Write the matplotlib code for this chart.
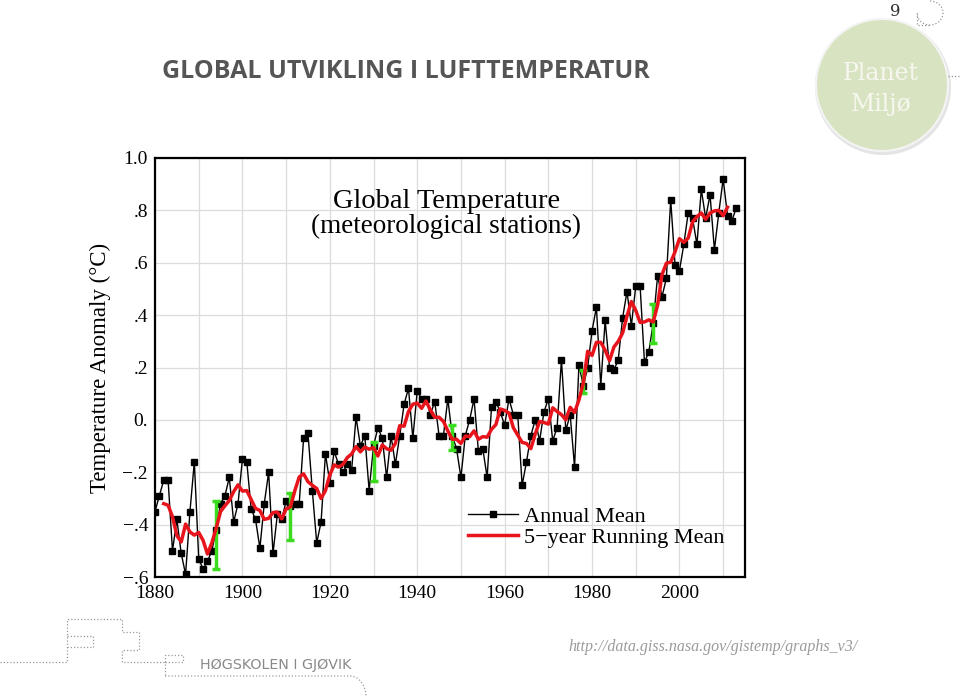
import numpy as np
import pandas as pd
import matplotlib
matplotlib.use('Agg')
import matplotlib.pyplot as plt
from matplotlib.patches import Circle, Arc

# Annual mean temperature anomaly (meteorological stations)
years = list(range(1880, 2014))
annual = [
    -0.35, -0.29, -0.23, -0.23, -0.50, -0.38, -0.51, -0.59, -0.35, -0.16,   # 1880s
    -0.53, -0.57, -0.54, -0.50, -0.42, -0.32, -0.29, -0.22, -0.39, -0.32,   # 1890s
    -0.15, -0.16, -0.34, -0.38, -0.49, -0.32, -0.20, -0.51, -0.36, -0.38,   # 1900s
    -0.31, -0.33, -0.32, -0.32, -0.07, -0.05, -0.27, -0.47, -0.39, -0.13,   # 1910s
    -0.24, -0.12, -0.17, -0.20, -0.17, -0.19, 0.01, -0.10, -0.06, -0.27,    # 1920s
    -0.10, -0.03, -0.07, -0.22, -0.06, -0.17, -0.06, 0.06, 0.12, -0.07,     # 1930s
    0.11, 0.08, 0.08, 0.02, 0.07, -0.06, -0.06, 0.08, -0.06, -0.11,         # 1940s
    -0.22, -0.06, 0.00, 0.08, -0.12, -0.11, -0.22, 0.05, 0.07, 0.03,        # 1950s
    -0.02, 0.08, 0.02, 0.02, -0.25, -0.16, -0.06, 0.00, -0.08, 0.03,        # 1960s
    0.08, -0.08, -0.03, 0.23, -0.04, 0.02, -0.18, 0.21, 0.13, 0.20,         # 1970s
    0.34, 0.43, 0.13, 0.38, 0.20, 0.19, 0.23, 0.39, 0.49, 0.36,             # 1980s
    0.51, 0.51, 0.22, 0.26, 0.37, 0.55, 0.47, 0.54, 0.84, 0.59,             # 1990s
    0.57, 0.67, 0.79, 0.77, 0.67, 0.88, 0.77, 0.86, 0.65, 0.79,             # 2000s
    0.92, 0.78, 0.76, 0.81,                                                 # 2010s
]

# uncertainty bars (green)
err_years = [1894, 1911, 1930, 1948, 1978, 1994]
err_center = [-0.44, -0.37, -0.16, -0.067, 0.147, 0.368]
err_half = [0.13, 0.09, 0.075, 0.048, 0.045, 0.075]

ytick_vals = [-0.6, -0.4, -0.2, 0.0, 0.2, 0.4, 0.6, 0.8, 1.0]
ytick_labels = ['\u2212.6', '\u2212.4', '\u2212.2', '0.', '.2', '.4', '.6', '.8', '1.0']
xtick_vals = list(range(1880, 2011, 10))
xtick_labels = [str(y) if y % 20 == 0 else '' for y in xtick_vals]

running = pd.Series(annual, index=years).rolling(5, center=True).mean()

W, H = 960, 697
fig = plt.figure(figsize=(W / 100, H / 100), dpi=100)

# slide background decorations, pixel coordinates
bg = fig.add_axes([0, 0, 1, 1])
bg.set_xlim(0, W)
bg.set_ylim(H, 0)
bg.axis('off')

bg.text(162, 71, 'GLOBAL UTVIKLING I LUFTTEMPERATUR', family='Open Sans',
        weight='bold', fontsize=18, color='#555555', va='center', ha='left')

bg.add_patch(Circle((883, 87), 68, fc='#e4e4e4', ec='none'))
bg.add_patch(Circle((882, 85), 66, fc='#d8e3c2', ec='#f4f4f4', lw=1.5))
bg.text(881, 73, 'Planet', family='DejaVu Serif', fontsize=17, color='#f7f7f0',
        ha='center', va='center')
bg.text(881, 104, 'Milj\u00f8', family='DejaVu Serif', fontsize=17, color='#f7f7f0',
        ha='center', va='center')
bg.text(895, 12, '9', family='DejaVu Serif', fontsize=12, color='#333333',
        ha='center', va='center')

dot = dict(color='#9a9a9a', lw=0.9, ls=(0, (1, 1.6)))
bg.add_patch(Arc((930, 13), 26, 24, theta1=-90, theta2=180, **dot))
bg.plot([917, 917, 930], [13, 25, 25], **dot)
bg.plot([948, 960], [76, 76], **dot)

# school logo lines
bg.plot([0, 67, 67, 122, 122, 139, 139, 122, 122, 165], [662, 662, 619, 619, 632, 632, 650, 650, 662, 662], **dot)
bg.plot([67, 93, 93, 67], [636, 636, 647, 647], **dot)
bg.plot([165, 183, 183, 165, 165], [662, 662, 655, 655, 676], **dot)
curve_t = np.linspace(0, np.pi / 2, 20)
bg.plot(list([165, 350]) + list(350 + 16 * np.sin(curve_t)),
        list([676, 676]) + list(676 + 21 * (1 - np.cos(curve_t))), **dot)
bg.text(200, 665, 'H\u00d8GSKOLEN I GJ\u00d8VIK', family='DejaVu Sans', fontsize=10.3,
        color='#8a8a8a', ha='left', va='center')
bg.text(568, 647, 'http://data.giss.nasa.gov/gistemp/graphs_v3/', family='Liberation Serif',
        style='italic', fontsize=11.5, color='#9a9a9a', ha='left', va='center')

# the chart
ax = fig.add_axes([155 / W, 1 - 577 / H, 590 / W, 419 / H])
serif = 'Liberation Serif'

ax.plot(years, annual, color='black', lw=1.0, marker='s', markersize=4,
        label='Annual Mean', zorder=3)
ax.errorbar(err_years, err_center, yerr=err_half, fmt='none', ecolor='#3bdc1f',
            elinewidth=2.5, capsize=3, capthick=2.5, zorder=4)
ax.plot(running.index, running.values, color='#e8141c', lw=2.5,
        label='5\u2212year Running Mean', zorder=5)

ax.set_xlim(1880, 2015)
ax.set_ylim(-0.6, 1.0)
ax.set_xticks(xtick_vals)
ax.set_xticklabels(xtick_labels, family=serif, fontsize=14)
ax.set_yticks(ytick_vals)
ax.set_yticklabels(ytick_labels, family=serif, fontsize=14)
ax.tick_params(length=0)
ax.tick_params(axis='x', pad=6)
ax.tick_params(axis='y', pad=5)
ax.grid(True, color='#dcdcdc', lw=0.9)
ax.set_axisbelow(True)
for sp in ax.spines.values():
    sp.set_linewidth(1.6)

ax.set_ylabel('Temperature Anomaly (\u00b0C)', family=serif, fontsize=16.5, labelpad=8)

ax.text(0.495, 0.895, 'Global Temperature', transform=ax.transAxes, family=serif,
        fontsize=20.5, ha='center', va='center')
ax.text(0.494, 0.837, '(meteorological stations)', transform=ax.transAxes, family=serif,
        fontsize=19.5, ha='center', va='center')

leg = ax.legend(loc='lower left', bbox_to_anchor=(0.53, 0.07), frameon=False,
                prop={'family': serif, 'size': 16}, handlelength=2.25,
                handletextpad=0.3, labelspacing=0.0, borderpad=0, borderaxespad=0,
                numpoints=1)

fig.savefig('out.png', dpi=100)
